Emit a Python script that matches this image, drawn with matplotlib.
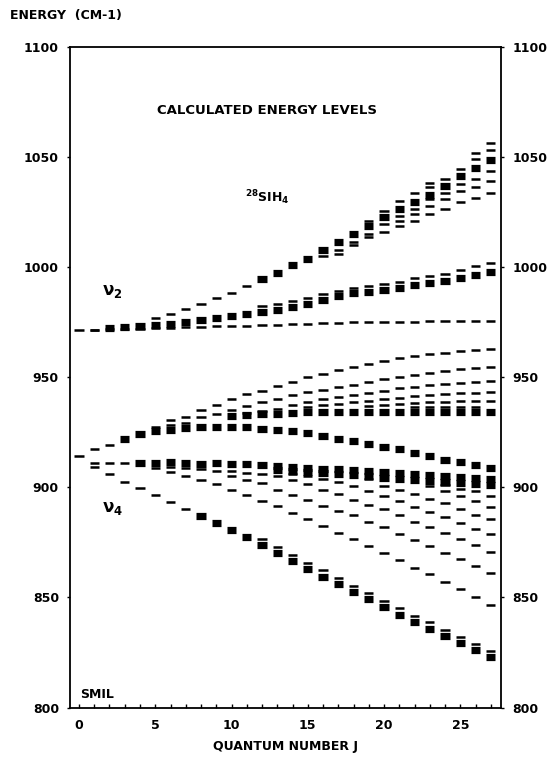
import matplotlib.pyplot as plt

N = None
J = list(range(28))

# ---- nu2 region (upper) ----
a_top = [N, N, N, N, N, 977.0, 979.0, 981.0, 983.3, 986.0, 988.6, 991.4, 994.6, 997.7,
         1001.0, 1004.0, 1007.8, 1011.6, 1015.0, 1019.0, 1023.0, 1026.6, 1029.7, 1033.0,
         1037.0, 1041.6, 1045.4, 1049.0]
a_up = [N]*19 + [1021.3, 1025.8, 1030.3, 1034.0, 1038.6, 1040.0, 1044.6, 1052.0, 1056.6]
a_up2 = [N]*23 + [1036.4, N, N, 1049.5, 1053.3]
a_dn1 = [N]*16 + [1005.0, 1008.0, 1011.5, 1015.0, 1019.8, 1023.6, 1026.6, 1031.0, 1034.0,
                  1037.8, 1040.0, 1043.8]
a_dn2 = [N]*17 + [1006.0, 1010.0, 1013.8, 1016.0, 1021.3, 1024.3, 1028.0, 1031.0, 1034.8,
                  1036.8, 1039.3]
a_dn3 = [N]*21 + [1019.0, 1021.3, 1024.3, 1026.6, 1029.6, 1031.8, 1034.0]
b_mid = [N, 971.8, 972.5, 973.0, 973.6, 974.0, 974.5, 975.2, 976.0, 977.0, 978.0, 978.8,
         979.8, 980.8, 982.0, 983.5, 985.3, 986.9, 988.3, 989.0, 989.8, 990.5, 992.0, 992.8,
         994.0, 995.0, 996.5, 998.0]
b_hi = [N]*12 + [982.5, 983.5, 984.8, 986.3, 987.8, 989.2, 990.6, 991.6, 992.6, 993.6, 995.0,
                 996.0, 997.2, 999.0, 1000.7, 1002.0]
c_flat = [971.8, 971.8, 971.9, 972.0, 972.2, 972.4, 972.6, 972.8, 973.0, 973.2, 973.4, 973.6,
          973.8, 974.0, 974.2, 974.4, 974.6, 974.8, 975.0, 975.1, 975.2, 975.3, 975.4, 975.5,
          975.5, 975.6, 975.6, 975.7]

# ---- nu4 region (lower) ----
e1 = [N, N, N, N, N, 927.5, 930.5, 932.0, 935.0, 937.4, 940.0, 942.3, 944.0, 946.0, 948.0,
      950.0, 951.5, 953.3, 954.8, 956.3, 957.5, 958.7, 959.6, 960.5, 961.3, 962.0, 962.6, 963.1]
e2 = [N]*6 + [928.3, 929.4, 932.0, 933.5, 935.0, 937.0, 938.7, 940.0, 942.0, 943.2, 944.5,
              945.7, 946.8, 948.0, 949.2, 950.2, 951.2, 952.2, 953.0, 953.7, 954.3, 954.8]
e3 = [N]*11 + [933.8, 934.8, 935.8, 937.6, 938.8, 940.0, 941.0, 942.0, 943.0, 944.0, 945.0,
               945.8, 946.5, 947.1, 947.6, 948.1, 948.5]
e4 = [N]*15 + [936.5, 937.3, 938.0, 938.8, 939.5, 940.2, 940.8, 941.4, 941.9, 942.4, 942.8,
               943.0, 943.2]
e5 = [N]*19 + [937.0, 937.5, 937.9, 938.3, 938.7, 939.0, 939.2, 939.4, 939.5]
e6 = [N]*22 + [936.4, 936.5, 936.6, 936.7, 936.8]
k_block = [N]*10 + [932.4, 933.0, 933.3, 933.6, 934.0, 934.2, 934.3, 934.4, 934.5, 934.5,
                    934.5, 934.5, 934.5, 934.5, 934.5, 934.5, 934.4, 934.4]
d_peak = [914.4, 917.3, 919.5, 922.0, 924.5, 925.5, 926.3, 927.0, 927.4, 927.5, 927.5, 927.3,
          926.8, 926.3, 925.7, 924.8, 923.3, 922.2, 921.2, 919.9, 918.5, 917.3, 915.8, 914.3,
          912.7, 911.6, 910.3, 908.7]
f_top = [N, 911.3, 911.3, 911.3, 911.0, 911.0, 911.5, 911.0, 910.8, 911.0, 910.8, 910.6,
         910.2, 909.9, 909.5, 909.0, 908.6, 908.2, 907.8, 907.3, 906.9, 906.5, 906.3, 905.8,
         905.3, 904.8, 904.4, 904.0]
f_bot = [N]*13 + [908.0, 907.5, 907.0, 906.5, 906.0, 905.5, 905.0, 904.5, 904.0, 903.5,
                  903.0, 902.5, 902.0, 901.5, 901.0]
g_a = [N]*5 + [909.0, 907.0, 905.0, 903.6, 901.5, 899.0, 896.4, 893.7, 891.5, 888.5, 885.7,
               882.5, 879.5, 876.4, 873.4, 870.0, 867.0, 863.6, 860.6, 857.2, 853.9, 850.1,
               846.7]
g_b = [N]*6 + [909.5, 909.0, 908.6, 907.6, 905.0, 903.6, 902.0, 899.0, 896.8, 894.3, 891.6,
               889.5, 887.3, 884.5, 882.0, 879.0, 876.1, 873.4, 870.0, 867.4, 864.4, 861.1]
g_c = [N]*10 + [907.5, 906.5, 906.0, 905.3, 903.5, 901.5, 899.0, 897.0, 894.5, 892.2, 890.0,
                887.3, 884.3, 882.0, 879.4, 876.4, 873.7, 870.7]
g_d = [N]*14 + [906.0, 905.0, 904.0, 902.5, 900.5, 898.2, 896.0, 893.7, 891.2, 888.9, 886.7,
                884.0, 881.2, 878.7]
g_e = [N]*19 + [904.0, 900.9, 899.0, 897.0, 894.8, 893.0, 890.2, 887.7, 885.5]
g_f = [N]*23 + [900.5, 898.2, 896.0, 893.7, 891.2]
g_g = [N]*24 + [901.0, 899.5, 898.2, 896.3]
h_low = [N, 909.2, 906.0, 902.7, 899.7, 896.8, 893.4, 890.0, 887.0, 884.0, 880.5, 877.3,
         873.8, 870.0, 866.7, 862.9, 859.5, 856.2, 852.4, 849.1, 845.6, 842.2, 838.9, 835.9,
         832.6, 829.2, 826.1, 823.1]
h_top = [N]*12 + [876.6, 872.8, 869.5, 865.7, 862.3, 859.0, 855.2, 851.9, 848.4, 845.0,
                  841.7, 838.7, 835.4, 832.0, 828.9, 825.9]

# branch, first J drawn bold
branches = [
    (a_top, 12), (a_up, 99), (a_up2, 99), (a_dn1, 99), (a_dn2, 99), (a_dn3, 99),
    (b_mid, 2), (b_hi, 99), (c_flat, 99),
    (e1, 99), (e2, 99), (e3, 99), (e4, 99), (e5, 99), (e6, 99), (k_block, 10),
    (d_peak, 3), (f_top, 4), (f_bot, 13),
    (g_a, 99), (g_b, 99), (g_c, 99), (g_d, 99), (g_e, 99), (g_f, 99), (g_g, 99),
    (h_low, 8), (h_top, 99),
]

bold = dict(family='DejaVu Sans', weight='bold')

fig = plt.figure(figsize=(5.59, 7.61), dpi=100)
ax = fig.add_axes([0.1252, 0.0703, 0.7711, 0.8673])

hw = 0.3
for vals, jb in branches:
    for j, e in zip(J, vals):
        if e is None:
            continue
        lw = 5.2 if j >= jb else 1.8
        ax.hlines(e, j - hw, j + hw, colors='black', linewidth=lw, capstyle='butt')

ax.set_xlim(-0.59, 27.67)
ax.set_ylim(800, 1100)
ax.set_xticks(range(0, 26, 5))
ax.set_xticks(range(0, 28), minor=True)
ax.set_yticks(range(800, 1101, 50))
ax.tick_params(axis='x', which='both', direction='in', length=3, width=1, pad=8,
               labelsize=9)
ax.tick_params(axis='y', direction='out', length=2, width=1, pad=6, labelsize=9,
               right=True, labelright=True)
for lab in ax.get_xticklabels() + ax.get_yticklabels():
    lab.set_fontweight('bold')
for s in ax.spines.values():
    s.set_linewidth(1.3)

fig.text(0.018, 0.979, 'ENERGY  (CM-1)', fontsize=9, va='center', **bold)
ax.text(12.3, 1071.5, 'CALCULATED ENERGY LEVELS', fontsize=9.5, ha='center', va='center', **bold)
ax.text(10.9, 1031.7, '$^{\\mathbf{28}}$SIH$_{\\mathbf{4}}$', fontsize=9, ha='left', va='center', **bold)
ax.text(1.5, 989.3, '\u03bd$_{\\mathbf{2}}$', fontsize=12, ha='left', va='center', **bold)
ax.text(1.5, 890.5, '\u03bd$_{\\mathbf{4}}$', fontsize=12, ha='left', va='center', **bold)
ax.text(0.1, 803, 'SMIL', fontsize=9, ha='left', va='bottom', **bold)
ax.set_xlabel('QUANTUM NUMBER J', fontsize=9, labelpad=6, **bold)

fig.savefig('out.png', dpi=100)
